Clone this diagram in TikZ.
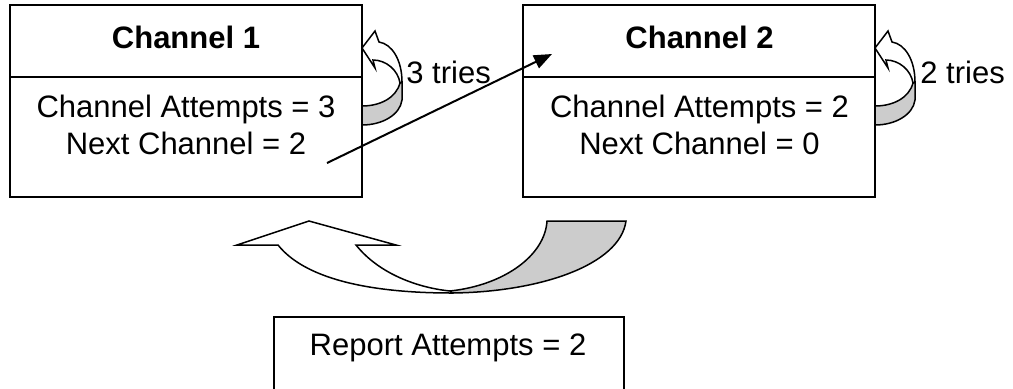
\documentclass[tikz,border=0pt]{standalone}
\usepackage{fontspec}
\setmainfont{Liberation Sans}
\usetikzlibrary{arrows.meta, positioning}

\tikzset{
  curl/.pic={
    \filldraw[ribbon, fill=gray!40] (38,35) -- (40,34) -- (40,52)
      .. controls (38,67) and (20,77) .. (0,77) -- (0,58)
      .. controls (18,58) and (34,50) .. (38,35) -- cycle;
    \filldraw[ribbon, fill=white] (0,0) -- (13,-17) -- (17,-6)
      .. controls (30,-4) and (40,12) .. (40,34) -- (38,35)
      .. controls (36,22) and (24,12) .. (11,12) -- (13,20) -- cycle;
  }
}

\begin{document}
\begin{tikzpicture}[
  x=0.5pt, y=-0.5pt,
  chbox/.style={draw, line width=1pt, minimum width=176pt, minimum height=96pt,
                inner sep=0pt, outer sep=0pt},
  txt/.style={font=\fontsize{15.5}{18.5}\selectfont, align=center, inner sep=0pt},
  title/.style={txt, font=\fontsize{15.5}{18.5}\selectfont\bfseries},
  link/.style={-{Triangle[length=9pt, width=7pt]}, line width=1pt},
  ribbon/.style={draw, line width=0.75pt},
]
\useasboundingbox (0,0) rectangle (1013,388);

\node[chbox] (ch1) at (186,101) {};
\node[chbox, right=80.5pt of ch1] (ch2) {};
\node[chbox, minimum width=175pt, minimum height=45pt, anchor=north west] (rep) at (274,317) {};

\foreach \c in {ch1,ch2}
  \draw[line width=1pt] ([yshift=-36pt]\c.north west) -- ([yshift=-36pt]\c.north east);

\node[title] (ch1t) at (186,37) {Channel 1};
\node[txt] (ch1b) at (186,125) {Channel Attempts = 3\\Next Channel = 2};
\node[title] (ch2t) at (699.5,37) {Channel 2};
\node[txt] (ch2b) at (699.5,125) {Channel Attempts = 2\\Next Channel = 0};
\node[txt] (rept) at (448,348) {Report Attempts = 2};

% retries on the same channel
\pic (loop1) at ([yshift=-21.5pt]ch1.north east) {curl};
\pic (loop2) at ([yshift=-21.5pt]ch2.north east) {curl};
\node[txt, anchor=west] (tries1) at (406,72) {3 tries};
\node[txt, anchor=west] (tries2) at (920,72) {2 tries};

% move on to the next channel
\coordinate (from1) at (327,163);
\coordinate (to2) at (552,54);
\draw[link] (from1) -- (to2);

% back round to the first channel
\filldraw[ribbon, fill=gray!40] (450,291) .. controls (505,285) and (545,255) .. (547,221)
  -- (626,221) .. controls (620,265) and (540,292) .. (452,293) -- cycle;
\filldraw[ribbon, fill=white] (278,245) -- (237,245) -- (309,221) -- (396,245) -- (356,245)
  .. controls (380,275) and (420,288) .. (450,291) -- (452,293)
  .. controls (390,293) and (310,285) .. (278,245) -- cycle;
\end{tikzpicture}
\end{document}
